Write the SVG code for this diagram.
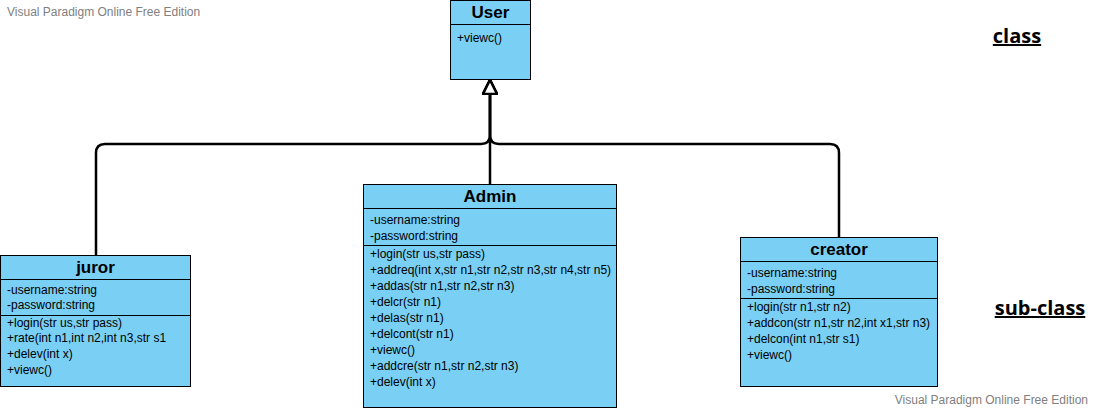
<svg xmlns="http://www.w3.org/2000/svg" width="1094" height="409" viewBox="0 0 1094 409">
  <style>
    .box { fill: #7acff5; stroke: #000; stroke-width: 1; }
    .sep { stroke: #000; stroke-width: 1; }
    .title { font-family: "Liberation Sans", Arial, sans-serif; font-weight: bold; font-size: 17px; text-anchor: middle; fill: #000; }
    .member { font-family: "Liberation Sans", Arial, sans-serif; font-size: 12px; fill: #000; }
    .wm { font-family: "Liberation Sans", Arial, sans-serif; font-size: 12px; fill: #808080; }
    .label { font-family: "Open Sans", "Liberation Sans", sans-serif; font-weight: bold; font-size: 20px; fill: #000; text-decoration: underline; }
    .edge { fill: none; stroke: #000; stroke-width: 2.5; }
  </style>
  <defs>
    <marker id="inherit" viewBox="0 0 16 16" refX="15" refY="8" markerWidth="16" markerHeight="16" markerUnits="userSpaceOnUse" orient="auto">
      <path d="M1,1 L15,8 L1,15 Z" fill="#fff" stroke="#000" stroke-width="2.5"/>
    </marker>
  </defs>

  <rect width="1094" height="409" fill="#fff"/>

  <text class="wm" x="7" y="16">Visual Paradigm Online Free Edition</text>
  <text class="wm" x="1088" y="404" text-anchor="end">Visual Paradigm Online Free Edition</text>

  <text class="label" x="1017" y="43" text-anchor="middle">class</text>
  <text class="label" x="1040" y="315" text-anchor="middle">sub-class</text>

  <!-- generalisation connectors -->
  <g id="connectors">
    <path class="edge" d="M96,255 V153 Q96,144 105,144 H481 Q490,144 490,135 V80" marker-end="url(#inherit)"/>
    <path class="edge" d="M839,237 V153 Q839,144 830,144 H499 Q490,144 490,135 V80" marker-end="url(#inherit)"/>
    <path class="edge" d="M490,184 V80" marker-end="url(#inherit)"/>
  </g>

  <g id="user">
    <rect class="box" x="450.5" y="0.5" width="80" height="79"/>
    <line class="sep" x1="450.5" y1="24.5" x2="530.5" y2="24.5"/>
    <text class="title" x="490.5" y="18">User</text>
    <text class="member" x="457" y="42">+viewc()</text>
  </g>

  <g id="juror">
    <rect class="box" x="0.5" y="255.5" width="190" height="131"/>
    <line class="sep" x1="0.5" y1="279.5" x2="190.5" y2="279.5"/>
    <line class="sep" x1="0.5" y1="315.5" x2="190.5" y2="315.5"/>
    <text class="title" x="95.5" y="273">juror</text>
    <text class="member" x="7" y="294">-username:string</text>
    <text class="member" x="7" y="309">-password:string</text>
    <text class="member" x="7" y="327">+login(str us,str pass)</text>
    <text class="member" x="7" y="342">+rate(int n1,int n2,int n3,str s1</text>
    <text class="member" x="7" y="358">+delev(int x)</text>
    <text class="member" x="7" y="374">+viewc()</text>
  </g>

  <g id="admin">
    <rect class="box" x="363.5" y="184.5" width="253" height="223"/>
    <line class="sep" x1="363.5" y1="208.5" x2="616.5" y2="208.5"/>
    <line class="sep" x1="363.5" y1="245.5" x2="616.5" y2="245.5"/>
    <text class="title" x="490" y="202">Admin</text>
    <text class="member" x="370" y="224">-username:string</text>
    <text class="member" x="370" y="240">-password:string</text>
    <text class="member" x="370" y="258">+login(str us,str pass)</text>
    <text class="member" x="370" y="274">+addreq(int x,str n1,str n2,str n3,str n4,str n5)</text>
    <text class="member" x="370" y="290">+addas(str n1,str n2,str n3)</text>
    <text class="member" x="370" y="306">+delcr(str n1)</text>
    <text class="member" x="370" y="322">+delas(str n1)</text>
    <text class="member" x="370" y="338">+delcont(str n1)</text>
    <text class="member" x="370" y="354">+viewc()</text>
    <text class="member" x="370" y="370">+addcre(str n1,str n2,str n3)</text>
    <text class="member" x="370" y="386">+delev(int x)</text>
  </g>

  <g id="creator">
    <rect class="box" x="740.5" y="237.5" width="197" height="149"/>
    <line class="sep" x1="740.5" y1="261.5" x2="937.5" y2="261.5"/>
    <line class="sep" x1="740.5" y1="298.5" x2="937.5" y2="298.5"/>
    <text class="title" x="839" y="255">creator</text>
    <text class="member" x="747" y="277">-username:string</text>
    <text class="member" x="747" y="293">-password:string</text>
    <text class="member" x="747" y="311">+login(str n1,str n2)</text>
    <text class="member" x="747" y="327">+addcon(str n1,str n2,int x1,str n3)</text>
    <text class="member" x="747" y="343">+delcon(int n1,str s1)</text>
    <text class="member" x="747" y="359">+viewc()</text>
  </g>
</svg>
